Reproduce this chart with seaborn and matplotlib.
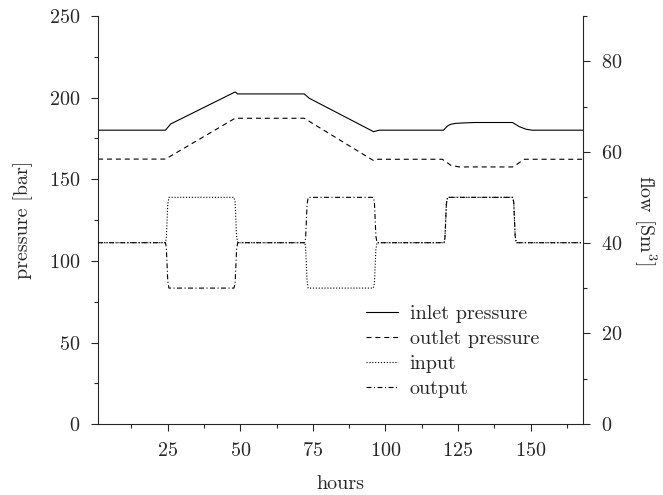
import matplotlib
matplotlib.use("Agg")
import matplotlib.pyplot as plt
from matplotlib.ticker import MultipleLocator
import seaborn as sns

# pressure series (bar), breakpoints
inlet_hours = [1, 24.2, 26, 48.2, 49.1, 72, 73.8, 95.9, 97.9, 120, 121.4, 122.5,
               124.3, 127.7, 131, 143.8, 146.1, 148.4, 150.6, 168]
inlet_bar = [180, 180, 183.8, 203.4, 202.2, 202.2, 199.5, 179.1, 180, 180, 182.6,
             183.6, 184.2, 184.5, 184.7, 184.7, 182.2, 180.6, 180, 180]

outlet_hours = [1, 24.2, 48.2, 72, 95.9, 97, 119.6, 121.4, 122.5, 125.4, 143.8,
                145, 146.6, 147.8, 168]
outlet_bar = [162.3, 162.3, 187.3, 187.3, 161.4, 162.2, 162.2, 160, 158.5, 157.5,
              157.5, 158.7, 160.7, 162.2, 162.2]

# flow series (Sm3)
flow_hours = [1, 24.2, 24.5, 25.0, 25.4, 47.8, 48.2, 48.7, 49.1, 72.2, 72.5, 73.0,
              73.4, 95.8, 96.2, 96.7, 97.1, 120.2, 120.5, 121.0, 121.4, 143.8,
              144.2, 144.7, 145.1, 168]
input_flow = [40, 40, 41, 48.5, 50, 50, 49, 41.5, 40, 40, 39, 31.5, 30, 30, 31,
              38.5, 40, 40, 41, 48.5, 50, 50, 49, 41.5, 40, 40]
output_flow = [40, 40, 39, 31.5, 30, 30, 31, 38.5, 40, 40, 41, 48.5, 50, 50, 49,
               41.5, 40, 40, 41, 48.5, 50, 50, 49, 41.5, 40, 40]

sns.set_style("ticks")
plt.rcParams["font.family"] = ["cmr10", "DejaVu Serif"]
plt.rcParams["mathtext.fontset"] = "cm"
plt.rcParams["axes.formatter.use_mathtext"] = True
fs = 14.5
plt.rcParams["font.size"] = fs

fig, ax = plt.subplots(figsize=(6.63, 4.95), dpi=100)
fig.subplots_adjust(left=0.148, right=0.879, bottom=0.143, top=0.968)
ax2 = ax.twinx()

lw = 0.8
sns.lineplot(x=inlet_hours, y=inlet_bar, ax=ax, color="k", lw=lw,
             linestyle="-", label="inlet pressure", legend=False)
sns.lineplot(x=outlet_hours, y=outlet_bar, ax=ax, color="k", lw=lw,
             linestyle=(0, (4.5, 3.5)), label="outlet pressure", legend=False)
sns.lineplot(x=flow_hours, y=input_flow, ax=ax2, color="k", lw=lw,
             linestyle=(0, (1, 1.6)), label="input", legend=False)
sns.lineplot(x=flow_hours, y=output_flow, ax=ax2, color="k", lw=lw,
             linestyle=(0, (4.5, 2.2, 1, 2.2)), label="output", legend=False)

ax.set_xlim(1, 168)
ax.set_ylim(0, 250)
ax2.set_ylim(0, 90)

ax.xaxis.set_major_locator(MultipleLocator(25))
ax.xaxis.set_minor_locator(MultipleLocator(12.5))
ax.yaxis.set_major_locator(MultipleLocator(50))
ax.yaxis.set_minor_locator(MultipleLocator(25))
ax2.yaxis.set_major_locator(MultipleLocator(20))
ax2.yaxis.set_minor_locator(MultipleLocator(10))

for a in (ax, ax2):
    a.spines["top"].set_visible(False)
    a.tick_params(which="major", length=5, width=0.8, pad=8, labelsize=fs)
    a.tick_params(which="minor", length=3, width=0.8)
ax.spines["right"].set_visible(False)
ax2.spines["left"].set_visible(False)
ax2.spines["bottom"].set_visible(False)

ax.set_xlabel("hours", fontsize=fs, labelpad=11)
ax.set_ylabel("pressure [bar]", fontsize=fs, labelpad=11)
ax2.set_ylabel("flow [Sm$^3$]", fontsize=fs, rotation=-90, labelpad=26)

h1, l1 = ax.get_legend_handles_labels()
h2, l2 = ax2.get_legend_handles_labels()
ax2.legend(h1 + h2, l1 + l2, loc="lower left", bbox_to_anchor=(0.537, 0.044),
           borderaxespad=0, frameon=False, handlelength=1.55, labelspacing=0.35,
           fontsize=fs, handletextpad=0.6)

fig.savefig("out.png", dpi=100)
